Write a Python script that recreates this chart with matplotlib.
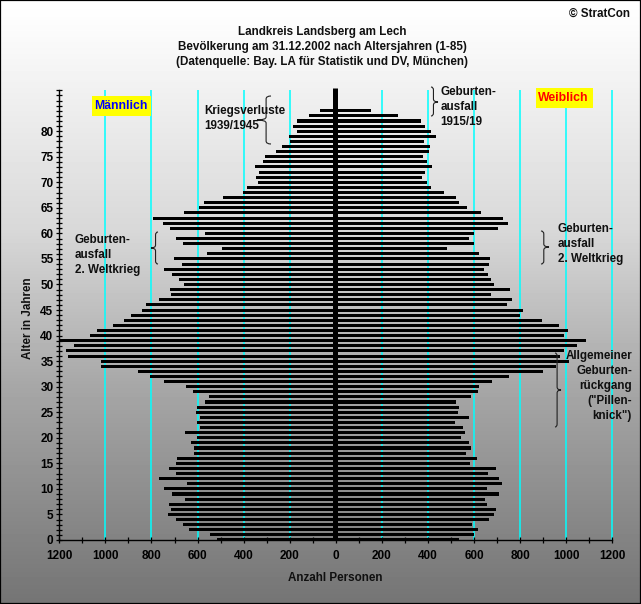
import matplotlib
matplotlib.use("Agg")
import matplotlib.pyplot as plt
import numpy as np
from matplotlib.patches import PathPatch, Rectangle
from matplotlib.path import Path

W, H = 641, 604

# Ages 0..84
ages = list(range(85))
male = [516, 546, 637, 663, 694, 728, 715, 724, 655, 711,
        746, 646, 767, 694, 724, 694, 689, 615, 615, 628,
        602, 655, 589, 602, 589, 607, 602, 568, 550, 620,
        650, 746, 806, 858, 1019, 1019, 1162, 1171, 1136, 1198,
        1067, 1036, 967, 919, 889, 841, 824, 767, 715, 720,
        659, 681, 711, 746, 668, 702, 559, 494, 663, 694,
        568, 720, 750, 793, 659, 594, 572, 490, 403, 385,
        338, 346, 333, 351, 316, 307, 260, 234, 199, 203,
        168, 186, 168, 116, 69]
female = [535, 600, 617, 591, 665, 687, 695, 656, 648, 708,
          656, 721, 708, 661, 695, 582, 613, 565, 587, 578,
          543, 561, 552, 517, 578, 530, 535, 522, 587, 617,
          622, 678, 752, 899, 956, 1012, 973, 990, 1047, 1086,
          990, 1008, 969, 895, 799, 812, 743, 765, 674, 756,
          687, 674, 661, 643, 665, 669, 622, 483, 600, 578,
          600, 704, 747, 726, 630, 569, 535, 522, 470, 413,
          396, 374, 387, 417, 396, 378, 405, 409, 383, 435,
          413, 387, 370, 270, 153]

title_lines = ["Landkreis Landsberg am Lech",
               "Bevölkerung am 31.12.2002 nach Altersjahren (1-85)",
               "(Datenquelle: Bay. LA für Statistik und DV, München)"]
x_grid = [-1000, -800, -600, -400, -200, 200, 400, 600, 800, 1000, 1200]
x_major = [-1200, -1000, -800, -600, -400, -200, 0, 200, 400, 600, 800, 1000, 1200]

plt.rcParams["font.family"] = ["Liberation Sans", "DejaVu Sans"]
plt.rcParams["font.weight"] = "bold"
plt.rcParams["font.size"] = 8.4


def fx(x):
    return x / W


def fy(y):
    return 1 - y / H


def label(x, y, s, ha="left", color="#101010", size=8.4):
    # +1: va="center" sits a pixel high for this font
    return fig.text(fx(x), fy(y + 1), s, ha=ha, va="center", color=color, size=size, zorder=10)


def brace(x0, x1, y0, y1, ytip):
    # curly brace in pixels, arms end at x0 and the tip points to x1
    c = x0 + (x1 - x0) * 0.35
    verts = [(x0, y0), (c, y0), (c, y0 + 3),
             (c, ytip - 3), (c, ytip), (x1, ytip),
             (c, ytip), (c, ytip + 3),
             (c, y1 - 3), (c, y1), (x0, y1)]
    verts = [(fx(a), fy(b)) for a, b in verts]
    codes = [Path.MOVETO, Path.CURVE3, Path.CURVE3,
             Path.LINETO, Path.CURVE3, Path.CURVE3,
             Path.CURVE3, Path.CURVE3,
             Path.LINETO, Path.CURVE3, Path.CURVE3]
    fig.add_artist(PathPatch(Path(verts, codes), fc="none", ec="#202020", lw=0.8,
                             transform=fig.transFigure, zorder=9))


fig = plt.figure(figsize=(W / 100, H / 100), dpi=100)

# Background gradient white -> grey
bg = fig.add_axes([0, 0, 1, 1], zorder=0)
shade = np.interp(np.arange(H), [0, 25, 230, 385, 604], [255, 252, 216, 167, 116])
bg.imshow(shade[:, None], cmap="gray", vmin=0, vmax=255, aspect="auto")
bg.axis("off")

# Plot area
ax = fig.add_axes([fx(59.3), fy(540), (612.3 - 59.3) / W, (540 - 90) / H], zorder=1)
ax.patch.set_alpha(0)
ax.set_xlim(-1200, 1200)
ax.set_ylim(0, 88.06)

ax.vlines(x_grid, 0, 88.06, color="#00FFFF", lw=1.1, zorder=1, clip_on=False)
ax.barh(ages, [-v for v in male], height=0.6, color="black", antialiased=False, zorder=2)
ax.barh(ages, female, height=0.6, color="black", antialiased=False, zorder=2)
# thick centre axis sits a little left of zero in the original
ax.plot([-5, -5], [0, 88.4], color="black", lw=3.6, solid_capstyle="butt", clip_on=False, zorder=3)

for s in ["top", "right"]:
    ax.spines[s].set_visible(False)
ax.spines["left"].set_linewidth(1.0)
ax.spines["bottom"].set_linewidth(1.0)

ax.set_xticks(x_major)
ax.set_xticklabels([str(abs(v)) for v in x_major])
ax.set_xticks(np.arange(-1100, 1200, 200), minor=True)
ax.set_yticks(np.arange(0, 85, 5))
ax.set_yticks(np.arange(0, 89, 1), minor=True)
ax.tick_params(axis="x", which="both", direction="inout", length=4, width=0.9, pad=5.5, labelsize=8.5)
ax.tick_params(axis="y", which="both", direction="inout", length=4.5, width=0.9, pad=2, labelsize=8.5)

# Titles
for y, s in zip([30.5, 46, 61], title_lines):
    label(322, y, s, ha="center")
label(630, 13, "© StratCon", ha="right")
label(335, 577, "Anzahl Personen", ha="center")
fig.text(fx(28), fy(318), "Alter in Jahren", rotation=90, ha="center", va="center", color="#101010")

# Gender boxes
for x0, x1, y0, y1, s, col in [(92.3, 150.7, 96, 115.7, "Männlich", "#0000FF"),
                               (536, 593, 88, 108, "Weiblich", "#FF0000")]:
    fig.add_artist(Rectangle((fx(x0), fy(y1)), (x1 - x0) / W, (y1 - y0) / H, fc="#FFFF00", ec="none",
                             transform=fig.transFigure, zorder=8))
    label((x0 + x1) / 2 - 1, (y0 + y1) / 2 - 1, s, ha="center", color=col, size=8.8)

# Annotations
label(204.7, 110, "Kriegsverluste")
label(204.7, 125, "1939/1945")
brace(271, 257, 96, 144, 120)

label(440.7, 91, "Geburten-")
label(440.7, 106, "ausfall")
label(440.7, 121, "1915/19")
brace(431, 438, 87, 116, 102)

label(74.7, 239, "Geburten-")
label(74.7, 254.5, "ausfall")
label(74.7, 269, "2. Weltkrieg")
brace(158, 151, 232, 264, 248)

label(557.7, 228, "Geburten-")
label(557.7, 243, "ausfall")
label(557.7, 258, "2. Weltkrieg")
brace(541, 549, 231, 264, 247)

for y, s in zip([355, 370, 385.5, 400, 415],
                ["Allgemeiner", "Geburten-", "rückgang", '("Pillen-', 'knick")']):
    label(632, y, s, ha="right")
brace(555, 561, 353, 427, 390)

# Image frame
fig.add_artist(Rectangle((0, 0), 1, 1, fc="none", ec="black", lw=1.6,
                         transform=fig.transFigure, zorder=20))

fig.savefig("out.png", dpi=100)
